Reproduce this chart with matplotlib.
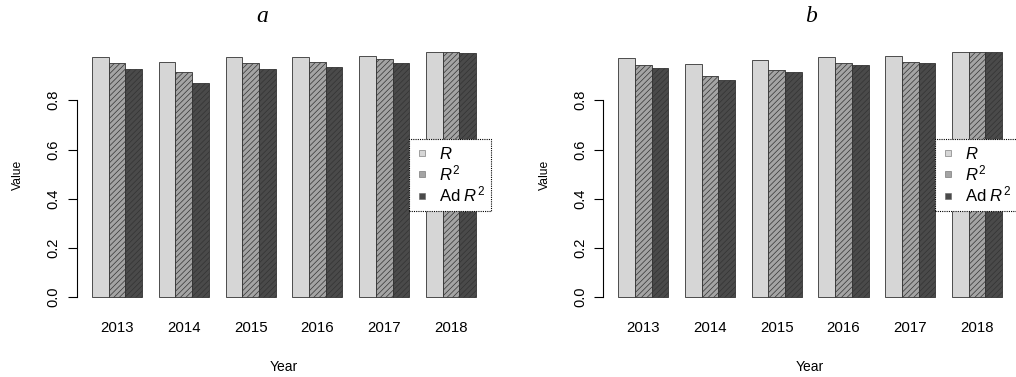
import numpy as np
import matplotlib
matplotlib.use('Agg')
from matplotlib import pyplot as plt
from matplotlib.lines import Line2D

plt.rcParams['font.family'] = ['Liberation Sans', 'DejaVu Sans']
plt.rcParams['mathtext.fontset'] = 'custom'
plt.rcParams['mathtext.rm'] = 'Liberation Sans'
plt.rcParams['mathtext.it'] = 'Liberation Sans:italic'
plt.rcParams['hatch.color'] = '#777777'
plt.rcParams['hatch.linewidth'] = 0.5

years = ['2013', '2014', '2015', '2016', '2017', '2018']
series = ['$R$', '$R^2$', 'Ad $R^2$']

r_a = [0.974, 0.955, 0.974, 0.977, 0.981, 0.997]
r2_a = [0.951, 0.913, 0.951, 0.955, 0.966, 0.995]
adr2_a = [0.927, 0.869, 0.927, 0.934, 0.951, 0.992]

r_b = [0.970, 0.947, 0.962, 0.974, 0.978, 0.997]
r2_b = [0.943, 0.897, 0.924, 0.951, 0.955, 0.995]
adr2_b = [0.931, 0.881, 0.916, 0.943, 0.951, 0.995]

fills = ['#d6d6d6', '#a4a4a4', '#4a4a4a']
hatches = ['', '//////', '//////']

W, H = 1016, 377
fig = plt.figure(figsize=(W / 100, H / 100), dpi=100)


def panel(left_px, right_px, data, title, title_x):
    top_px, bot_px = 42, 307
    ax = fig.add_axes([left_px / W, 1 - bot_px / H,
                       (right_px - left_px) / W, (bot_px - top_px) / H])
    ymax = max(max(d) for d in data)
    for j, vals in enumerate(data):
        x = 1 + 4 * np.arange(len(years)) + j
        ax.bar(x, vals, width=1, align='edge', color=fills[j],
               edgecolor='#333333', linewidth=0.6, hatch=hatches[j])
    ax.set_xlim(1 - 0.04 * 23, 24 + 0.04 * 23)
    ax.set_ylim(-0.04 * ymax, 1.04 * ymax)
    for s in ('top', 'right', 'bottom'):
        ax.spines[s].set_visible(False)
    ax.spines['left'].set_bounds(0, 0.8)
    ax.set_yticks([0, 0.2, 0.4, 0.6, 0.8])
    ax.set_yticklabels(['0.0', '0.2', '0.4', '0.6', '0.8'], rotation=90,
                       va='center', fontsize=10.5)
    ax.tick_params(axis='y', length=6.5, width=0.8, pad=5)
    ax.set_xticks(1.5 + 1 + 4 * np.arange(len(years)))
    ax.set_xticklabels(years, fontsize=10.8)
    ax.tick_params(axis='x', length=0, pad=10)
    ax.set_xlabel('Year', fontsize=10, labelpad=18)
    ax.set_ylabel('Value', fontsize=8.7, labelpad=16)
    handles = [Line2D([], [], linestyle='none', marker='s', markersize=4,
                      markerfacecolor=fills[j], markeredgecolor='#666666',
                      markeredgewidth=0.4) for j in range(3)]
    leg = ax.legend(handles, series, loc='upper right',
                    bbox_to_anchor=(1.0, (bot_px - 139) / (bot_px - top_px)),
                    fontsize=12, frameon=True, fancybox=False,
                    handlelength=0.8, handletextpad=0.6, borderpad=0.4,
                    labelspacing=0.1, borderaxespad=0)
    fr = leg.get_frame()
    fr.set_edgecolor('black')
    fr.set_linewidth(0.8)
    fr.set_linestyle((0, (1, 1)))
    fr.set_alpha(1)
    fig.text(title_x / W, 1 - 17 / H, title, ha='center', va='center',
             fontsize=17, family='Liberation Serif', style='italic')
    return ax


panel(76.6, 491.4, [r_a, r2_a, adr2_a], 'a', 262)
panel(603.0, 1017.3, [r_b, r2_b, adr2_b], 'b', 811)

fig.savefig('out.png', dpi=100)
